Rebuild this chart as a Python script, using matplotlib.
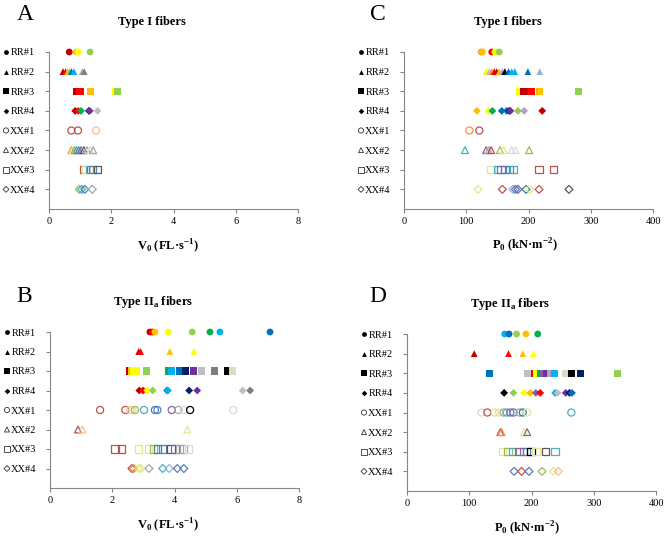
import matplotlib
matplotlib.use("Agg")
import matplotlib.pyplot as plt
import matplotlib.transforms as mtransforms

plt.rcParams['font.family'] = ['Liberation Serif', 'DejaVu Sans']
plt.rcParams['mathtext.fontset'] = 'custom'
plt.rcParams['mathtext.rm'] = 'Liberation Serif'
plt.rcParams['mathtext.bf'] = 'Liberation Serif:bold'

# -----------------------------
# Data (one list per animal, top row first)
# -----------------------------

animals = ["RR#1", "RR#2", "RR#3", "RR#4", "XX#1", "XX#2", "XX#3", "XX#4"]

v0_type1 = [
    [0.65, 0.88, 0.94, 1.32],
    [0.45, 0.53, 0.60, 0.66, 0.72, 0.80, 1.07, 1.13],
    [0.90, 0.97, 1.02, 1.34, 2.15, 2.21],
    [0.84, 0.94, 1.03, 1.28, 1.31, 1.56],
    [0.72, 0.93, 1.51],
    [0.72, 0.77, 0.82, 0.88, 0.95, 1.03, 1.12, 1.22, 1.32, 1.42],
    [1.10, 1.19, 1.30, 1.40, 1.55],
    [0.97, 1.05, 1.15, 1.39],
]
v0_type1_colors = [
    ["dr", "o", "y", "lg"],
    ["dr", "r", "o", "lg", "b", "lb", "la", "g2"],
    ["dr", "r", "r", "o", "y", "lg"],
    ["dr", "r", "g", "nv", "pu", "g1"],
    ["mr", "mr", "lo"],
    ["mo", "ly", "mg", "tl", "mb", "mp", "dg", "gr", "lgr", "gr"],
    ["mr", "ly", "tl", "mb", "dg"],
    ["mg", "tl", "mb", "gr"],
]

v0_type2a = [
    [3.21, 3.29, 3.37, 3.80, 4.57, 5.14, 5.46, 7.07],
    [2.85, 2.91, 3.85, 4.62],
    [2.57, 2.62, 2.70, 2.78, 3.10, 3.80, 3.89, 4.16, 4.35, 4.62, 4.86, 5.28, 5.69, 5.86],
    [2.87, 2.99, 3.13, 3.30, 3.76, 3.79, 4.47, 4.73, 6.19, 6.43],
    [1.61, 2.42, 2.58, 2.65, 2.73, 3.02, 3.37, 3.45, 3.91, 4.12, 4.30, 4.50, 5.89],
    [0.90, 1.04, 4.41],
    [2.09, 2.30, 2.85, 3.16, 3.32, 3.45, 3.62, 3.89, 4.02, 4.16, 4.29, 4.45],
    [2.63, 2.69, 2.84, 2.92, 3.18, 3.62, 3.83, 4.09, 4.30],
]
v0_type2a_colors = [
    ["dr", "r", "o", "y", "lg", "g", "lb", "b"],
    ["dr", "r", "o", "y"],
    ["dr", "o", "y", "y", "lg", "g", "lb", "b", "nv", "pu", "g1", "g2", "k", "be"],
    ["dr", "r", "y", "lg", "b", "lb", "nv", "pu", "g1", "g2"],
    ["mr", "mr", "lo", "ly", "mg", "tl", "mb", "mb", "mp", "gr", "lgr", "k", "lgr"],
    ["mr", "lo", "ly"],
    ["mr", "mr", "ly", "ly", "mg", "dt", "mb", "dg", "mp", "gr", "gr", "lgr"],
    ["mr", "mo", "ly", "ly", "gr", "tl", "sb", "mb", "mb"],
]

p0_type1 = [
    [124, 126, 141, 146, 153],
    [132, 137, 141, 145, 149, 153, 158, 162, 168, 173, 178, 199, 218],
    [185, 192, 204, 218, 281],
    [117, 136, 142, 157, 165, 169, 171, 183, 193, 222],
    [105, 121],
    [98, 132, 136, 140, 154, 160, 173, 179, 201],
    [140, 150, 156, 162, 169, 176, 217, 240],
    [119, 158, 175, 179, 183, 196, 202, 217, 265],
]
p0_type1_colors = [
    ["mo", "o", "r", "y", "lg"],
    ["y", "g1", "mo", "r", "dr", "o", "la", "k", "b", "lb", "lb", "b", "sb"],
    ["y", "dr", "r", "o", "lg"],
    ["o", "y", "g", "b", "b", "nv", "pu", "lg", "la", "dr"],
    ["mo", "mr"],
    ["tl", "mp", "gr", "mr", "mg", "ly", "lgr", "lgr", "mg"],
    ["ly", "tl", "mb", "mp", "mb", "tl", "mr", "mr"],
    ["ly", "mr", "sb", "mb", "mp", "dt", "ly", "mr", "dg"],
]

p0_type2a = [
    [157, 164, 176, 191, 210],
    [108, 163, 186, 203],
    [132, 194, 205, 208, 214, 219, 224, 230, 237, 255, 264, 278, 338],
    [156, 171, 188, 198, 207, 214, 238, 242, 255, 261, 265],
    [120, 129, 141, 148, 155, 160, 166, 171, 181, 186, 193, 264],
    [150, 152, 188, 193],
    [153, 162, 169, 180, 187, 192, 199, 207, 223, 238],
    [172, 184, 196, 217, 235, 243],
]
p0_type2a_colors = [
    ["lb", "b", "lg", "o", "g"],
    ["dr", "r", "o", "y"],
    ["b", "g1", "r", "y", "g", "mp", "pu", "la", "lb", "be", "k", "nv", "lg"],
    ["k", "lg", "y", "o", "mp", "r", "lb", "g1", "pu", "nv", "b"],
    ["lgr", "mr", "ly", "ly", "gr", "tl", "mb", "mp", "gr", "dt", "ly", "tl"],
    ["mr", "mo", "ly", "mp"],
    ["ly", "mg", "tl", "mr", "mp", "mb", "k", "ly", "dg", "tl"],
    ["mb", "mr", "mb", "mg", "ly", "lo"],
]

# -----------------------------
# Styles
# -----------------------------

palette = {
    "dr": "#C00000", "r": "#FF0000", "o": "#FFC000", "y": "#FFFF00",
    "lg": "#92D050", "g": "#00B050", "lb": "#00B0F0", "b": "#0070C0",
    "nv": "#002060", "pu": "#7030A0", "g1": "#BFBFBF", "g2": "#7F7F7F",
    "k": "#000000", "be": "#DDD9C4", "la": "#B3A2C7",
    "mr": "#C0504D", "mo": "#F79646", "lo": "#FAC090", "ly": "#E6E68A",
    "mg": "#9BBB59", "tl": "#4BACC6", "dt": "#31859C", "mb": "#4F81BD",
    "sb": "#95B3D7", "mp": "#8064A2", "dg": "#595959", "gr": "#A6A6A6",
    "lgr": "#D9D9D9",
}
markers = ["o", "^", "s", "D", "o", "^", "s", "D"]
data_size = [24, 24, 26, 16, 26, 24, 28, 16]
key_size = [12, 12, 13, 8, 14, 13, 16, 9]
axis_gray = "#868686"

W, H = 669, 537
fig = plt.figure(figsize=(W / 100, H / 100), dpi=100)


def px(x, y):
    return x / W, 1 - y / H


panels = [
    # box = left, top, right, bottom in pixels
    dict(box=(49, 52, 298, 209), vals=v0_type1, cols=v0_type1_colors,
         xmax=8, xstep=2, letter="A", lpos=(25, 15),
         title="Type I fibers", tpos=(152, 22),
         xlabel=r"V$_\mathbf{0}$ (FL·s$^\mathbf{-1}$)", xpos=(168, 246)),
    dict(box=(50, 332, 299, 488), vals=v0_type2a, cols=v0_type2a_colors,
         xmax=8, xstep=2, letter="B", lpos=(24, 296),
         title=r"Type II$_\mathbf{a}$ fibers", tpos=(153, 302),
         xlabel=r"V$_\mathbf{0}$ (FL·s$^\mathbf{-1}$)", xpos=(168, 525)),
    dict(box=(404, 52, 653, 209), vals=p0_type1, cols=p0_type1_colors,
         xmax=400, xstep=100, letter="C", lpos=(378, 14),
         title="Type I fibers", tpos=(508, 22),
         xlabel=r"P$_\mathbf{0}$ (kN·m$^\mathbf{-2}$)", xpos=(525, 245)),
    dict(box=(407, 334, 656, 491), vals=p0_type2a, cols=p0_type2a_colors,
         xmax=400, xstep=100, letter="D", lpos=(378, 296),
         title=r"Type II$_\mathbf{a}$ fibers", tpos=(510, 304),
         xlabel=r"P$_\mathbf{0}$ (kN·m$^\mathbf{-2}$)", xpos=(527, 528)),
]

rows_y = list(range(len(animals), 0, -1))

for p in panels:
    l, t, r, b = p["box"]
    ax = fig.add_axes([l / W, 1 - b / H, (r - l) / W, (b - t) / H])

    for i, (vals, cols) in enumerate(zip(p["vals"], p["cols"])):
        y = [rows_y[i]] * len(vals)
        c = [palette[k] for k in cols]
        if i < 4:
            ax.scatter(vals, y, marker=markers[i], s=data_size[i], c=c,
                       linewidths=0, clip_on=False, zorder=3)
        else:
            ax.scatter(vals, y, marker=markers[i], s=data_size[i],
                       facecolors="none", edgecolors=c, linewidths=0.9,
                       clip_on=False, zorder=3)

    ax.set_xlim(0, p["xmax"])
    ax.set_ylim(0, len(animals))
    ax.set_xticks(range(0, p["xmax"] + 1, p["xstep"]))
    ax.set_yticks(rows_y)
    ax.set_yticklabels(animals)

    for side in ["top", "right"]:
        ax.spines[side].set_visible(False)
    for side in ["left", "bottom"]:
        ax.spines[side].set_color(axis_gray)
        ax.spines[side].set_linewidth(0.8)
    ax.tick_params(axis="y", length=3, width=0.8, color=axis_gray, pad=7,
                   labelsize=7.5, labelcolor="black")
    ax.tick_params(axis="x", length=3, width=0.8, color=axis_gray, pad=3,
                   labelsize=7.5, labelcolor="black")

    # key symbols in front of the row labels
    trans = mtransforms.blended_transform_factory(ax.transAxes, ax.transData)
    for i in range(len(animals)):
        if i < 4:
            ax.scatter([-43 / (r - l)], [rows_y[i]], marker=markers[i],
                       s=key_size[i], c="black", linewidths=0,
                       transform=trans, clip_on=False)
        else:
            ax.scatter([-43 / (r - l)], [rows_y[i]], marker=markers[i],
                       s=key_size[i], facecolors="none",
                       edgecolors="#333333", linewidths=0.6,
                       transform=trans, clip_on=False)

    fig.text(*px(*p["lpos"]), p["letter"], fontsize=17, ha="center", va="center")
    fig.text(*px(*p["tpos"]), p["title"], fontsize=9, fontweight="bold",
             ha="center", va="center")
    fig.text(*px(*p["xpos"]), p["xlabel"], fontsize=9, fontweight="bold",
             ha="center", va="center")

fig.savefig("out.png", dpi=100)
